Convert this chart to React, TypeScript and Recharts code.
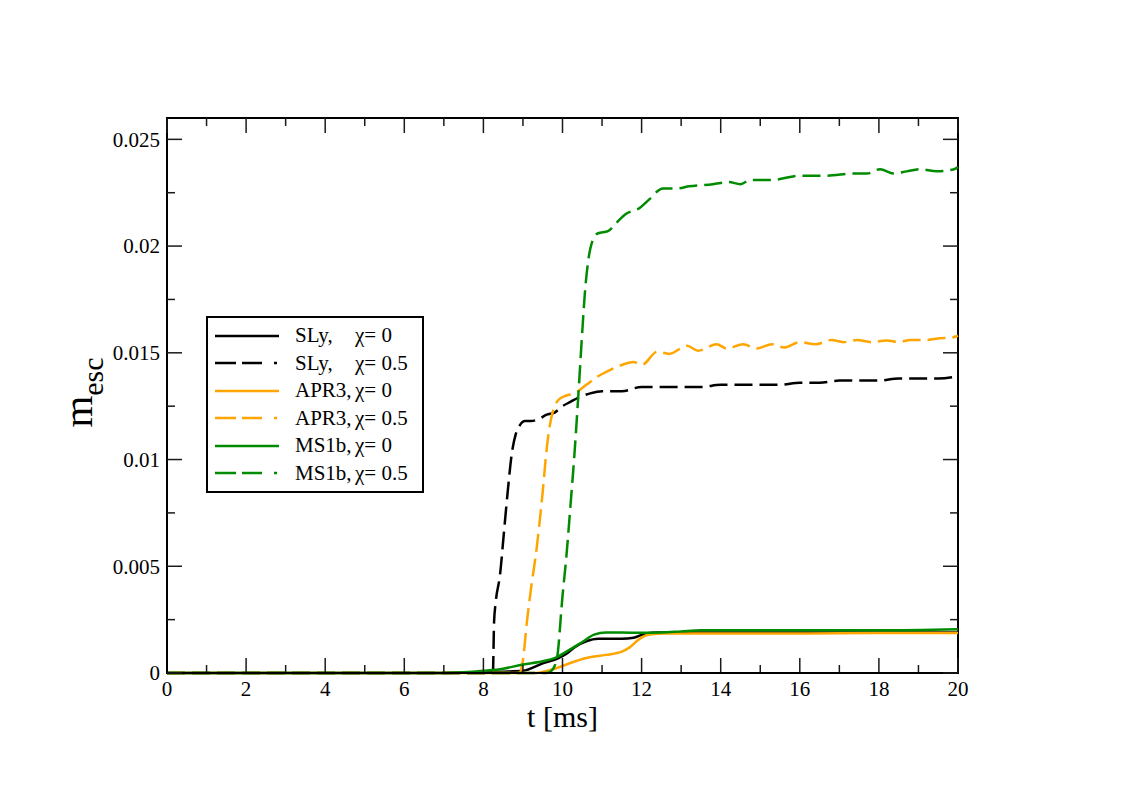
import { LineChart, Line, XAxis, YAxis, Legend, Label, ReferenceArea } from 'recharts';

const FONT = '"Liberation Serif", "Times New Roman", serif';

const BLACK = '#000000';
const ORANGE = '#ffa500';
const GREEN = '#008b00';

// [t in ms, m_esc]
const SLY_0: [number, number][] = [
  [0, 0], [2, 0], [4, 0], [6, 0], [7, 0], [8, 0.00003], [8.5, 0.00006], [9, 0.0001],
  [9.5, 0.00045], [9.9, 0.0007], [10.1, 0.0009], [10.3, 0.0012], [10.6, 0.00148],
  [10.9, 0.0016], [11.5, 0.0016], [11.8, 0.00165], [12.1, 0.00185], [12.4, 0.0019],
  [13, 0.0019], [14, 0.0019], [15, 0.0019], [16, 0.0019], [17, 0.0019], [18, 0.0019],
  [19, 0.0019], [20, 0.0019],
];

const SLY_05: [number, number][] = [
  [0, 0], [4, 0], [8, 0], [8.24, 0], [8.27, 0.0024], [8.31, 0.0033], [8.42, 0.0046],
  [8.52, 0.0066], [8.62, 0.0086], [8.72, 0.0103], [8.82, 0.0112], [8.92, 0.0116],
  [9.05, 0.0118], [9.2, 0.0118], [9.4, 0.0119], [9.6, 0.0121], [9.8, 0.0122], [10, 0.0125],
  [10.2, 0.0127], [10.4, 0.0129], [10.7, 0.0131], [11, 0.0132], [11.5, 0.0132], [12, 0.0134],
  [12.5, 0.0134], [13, 0.0134], [13.5, 0.0134], [14, 0.0135], [14.5, 0.0135], [15, 0.0135],
  [15.5, 0.0135], [16, 0.0136], [16.5, 0.0136], [17, 0.0137], [17.5, 0.0137], [18, 0.0137],
  [18.5, 0.0138], [19, 0.0138], [19.5, 0.0138], [20, 0.0139],
];

const APR3_0: [number, number][] = [
  [0, 0], [4, 0], [8, 0], [9.3, 0], [9.6, 0.0001], [9.8, 0.0002], [10.1, 0.0004],
  [10.6, 0.0007], [11.1, 0.00085], [11.5, 0.001], [11.7, 0.0012], [11.95, 0.0016],
  [12.2, 0.0018], [12.6, 0.00185], [14, 0.00185], [16, 0.00185], [18, 0.00187], [20, 0.00187],
];

const APR3_05: [number, number][] = [
  [0, 0], [4, 0], [8, 0], [8.9, 0], [9.0, 0.0006], [9.1, 0.0024], [9.2, 0.0039], [9.35, 0.0059],
  [9.5, 0.0085], [9.6, 0.0105], [9.7, 0.0118], [9.8, 0.0125], [9.9, 0.0128], [10.1, 0.013],
  [10.3, 0.0131], [10.6, 0.0135], [10.9, 0.0139], [11.1, 0.0141], [11.45, 0.0144],
  [11.8, 0.01457], [12.0, 0.01443], [12.4, 0.01505], [12.7, 0.01495], [13.15, 0.01533],
  [13.43, 0.0151], [13.9, 0.0154], [14.15, 0.0152], [14.57, 0.0154], [14.9, 0.0152],
  [15.3, 0.0154], [15.6, 0.01525], [16.0, 0.0155], [16.4, 0.0154], [16.8, 0.0156],
  [17.1, 0.0155], [17.45, 0.0156], [17.8, 0.0155], [18.2, 0.01558], [18.5, 0.0155],
  [18.8, 0.0156], [19.2, 0.0156], [19.55, 0.01568], [19.8, 0.0157], [20, 0.0158],
];

const MS1B_0: [number, number][] = [
  [0, 0], [4, 0], [7, 0], [7.5, 0.00003], [8, 0.0001], [8.5, 0.0002], [9, 0.0004],
  [9.5, 0.00055], [9.8, 0.0007], [10.1, 0.001], [10.5, 0.00145], [10.8, 0.0018],
  [11.1, 0.0019], [11.5, 0.0019], [12, 0.00188], [12.5, 0.0019], [13, 0.00195],
  [13.5, 0.002], [14, 0.002], [16, 0.002], [18, 0.002], [20, 0.00205],
];

const MS1B_05: [number, number][] = [
  [0, 0], [4, 0], [8, 0], [9.6, 0], [9.72, 0.0001], [9.86, 0.0007], [10.0, 0.0036],
  [10.1, 0.0055], [10.2, 0.0078], [10.3, 0.0102], [10.4, 0.013], [10.5, 0.016],
  [10.57, 0.0179], [10.65, 0.0193], [10.75, 0.0202], [10.9, 0.0206], [11.15, 0.0207],
  [11.37, 0.0211], [11.6, 0.0215], [11.96, 0.0218], [12.2, 0.0222], [12.54, 0.0227],
  [12.9, 0.0227], [13.2, 0.0228], [13.8, 0.0229], [14.2, 0.023], [14.5, 0.0229],
  [14.75, 0.0231], [15.3, 0.0231], [16, 0.0233], [16.7, 0.0233], [17.35, 0.0234],
  [17.7, 0.0234], [18.03, 0.0236], [18.37, 0.0234], [18.7, 0.0235], [19.04, 0.0236],
  [19.46, 0.0235], [19.9, 0.0236], [20, 0.0237],
];

const X_TICKS = [0, 1, 2, 3, 4, 5, 6, 7, 8, 9, 10, 11, 12, 13, 14, 15, 16, 17, 18, 19, 20];
const Y_TICKS = [0, 0.0025, 0.005, 0.0075, 0.01, 0.0125, 0.015, 0.0175, 0.02, 0.0225, 0.025];
const Y_LABELS = ['0', '0.005', '0.01', '0.015', '0.02', '0.025'];

const toPoints = (pairs: [number, number][]) => pairs.map(([t, m]) => ({ t, m }));

const SERIES = [
  { name: 'SLy,', chi: '0', color: BLACK, dashed: false, data: toPoints(SLY_0) },
  { name: 'SLy,', chi: '0.5', color: BLACK, dashed: true, data: toPoints(SLY_05) },
  { name: 'APR3,', chi: '0', color: ORANGE, dashed: false, data: toPoints(APR3_0) },
  { name: 'APR3,', chi: '0.5', color: ORANGE, dashed: true, data: toPoints(APR3_05) },
  { name: 'MS1b,', chi: '0', color: GREEN, dashed: false, data: toPoints(MS1B_0) },
  { name: 'MS1b,', chi: '0.5', color: GREEN, dashed: true, data: toPoints(MS1B_05) },
];

// plot box edges, used only to hang the inward tick marks on the frame
const PLOT = { left: 167, right: 958, top: 118, bottom: 673 };
const MAJOR = 15;
const MINOR = 8;
const TICK_STROKE = '#1a1a1a';
const TICK_W = 1.5;
// tick lengths in y units for the bottom ticks (555 px span 0.026)
const PX_TO_Y = 0.026 / (PLOT.bottom - PLOT.top);

function BottomTick(props: any) {
  const { x, index } = props;
  const len = index % 2 === 0 ? MAJOR : MINOR;
  return (
    <g>
      <line x1={x} x2={x} y1={PLOT.top} y2={PLOT.top + len} stroke={TICK_STROKE} strokeWidth={TICK_W} />
      {index % 2 === 0 && (
        <text x={x} y={PLOT.bottom + 8} dy="0.72em" textAnchor="middle" fontSize={21} fontFamily={FONT} fill="#000">
          {props.payload.value}
        </text>
      )}
    </g>
  );
}

function LeftTick(props: any) {
  const { y, index } = props;
  const len = index % 2 === 0 ? MAJOR : MINOR;
  return (
    <g>
      <line x1={PLOT.left} x2={PLOT.left + len} y1={y} y2={y} stroke={TICK_STROKE} strokeWidth={TICK_W} />
      <line x1={PLOT.right} x2={PLOT.right - len} y1={y} y2={y} stroke={TICK_STROKE} strokeWidth={TICK_W} />
      {index % 2 === 0 && (
        <text x={PLOT.left - 7} y={y} dy="0.35em" textAnchor="end" fontSize={21} fontFamily={FONT} fill="#000">
          {Y_LABELS[index / 2]}
        </text>
      )}
    </g>
  );
}

function YTitle(props: any) {
  const vb = props.viewBox || { x: 107, y: 118, width: 60, height: 555 };
  const bx = vb.x - 15;
  const cy = vb.y + vb.height / 2 - 3;
  return (
    <text transform={`translate(${bx},${cy}) rotate(-90)`} textAnchor="middle" fontFamily={FONT} fill="#000">
      <tspan fontSize={41}>m</tspan>
      <tspan fontSize={30} dy={11}>esc</tspan>
    </text>
  );
}

function LegendBox() {
  return (
    <div
      style={{
        boxSizing: 'border-box',
        width: 218,
        height: 177,
        border: '2px solid #000',
        background: '#fff',
        padding: '4px 0 0 7px',
        fontFamily: FONT,
        fontSize: 21,
        color: '#000',
      }}
    >
      {SERIES.map((s, i) => (
        <div key={i} style={{ display: 'flex', alignItems: 'center', height: 27.5 }}>
          <svg width={64} height={6} style={{ marginRight: 16 }}>
            <line
              x1={0}
              x2={64}
              y1={3}
              y2={3}
              stroke={s.color}
              strokeWidth={2.5}
              strokeDasharray={s.dashed ? '21 6 20 12 3' : undefined}
            />
          </svg>
          <span style={{ width: 60, whiteSpace: 'pre' }}>{s.name}</span>
          <span>χ= {s.chi}</span>
        </div>
      ))}
    </div>
  );
}

export default function App() {
  return (
    <div style={{ position: 'absolute', left: 0, top: 0, width: 1121, height: 792, background: '#fff', fontFamily: FONT }}>
      <LineChart width={1121} height={792} margin={{ top: 118, right: 163, bottom: 59, left: 107 }}>
        <XAxis
          xAxisId="b"
          dataKey="t"
          type="number"
          domain={[0, 20]}
          ticks={X_TICKS}
          interval={0}
          tickLine={false}
          axisLine={{ stroke: '#000', strokeWidth: 2 }}
          tick={<BottomTick />}
          height={60}
        >
          <Label value="t [ms]" position="insideBottom" offset={6} style={{ fontSize: 30, fill: '#000', fontFamily: FONT }} />
        </XAxis>
        <YAxis
          yAxisId="l"
          type="number"
          domain={[0, 0.026]}
          ticks={Y_TICKS}
          interval={0}
          tickLine={false}
          axisLine={{ stroke: '#000', strokeWidth: 2 }}
          tick={<LeftTick />}
          width={60}
        >
          <Label content={(p: any) => <YTitle {...p} />} />
        </YAxis>
        <ReferenceArea
          xAxisId="b"
          yAxisId="l"
          x1={0}
          x2={20}
          y1={0}
          y2={0.026}
          fill="none"
          stroke="#000"
          strokeWidth={2}
          ifOverflow="visible"
        />
        <Legend
          layout="horizontal"
          verticalAlign="middle"
          align="center"
          content={<LegendBox />}
          wrapperStyle={{ left: 206, top: 316, width: 218, height: 177 }}
        />
        {SERIES.map((s, i) => (
          <Line
            key={i}
            xAxisId="b"
            yAxisId="l"
            data={s.data}
            dataKey="m"
            type="monotone"
            stroke={s.color}
            strokeWidth={2.5}
            strokeDasharray={s.dashed ? '18 7' : undefined}
            dot={false}
            activeDot={false}
            isAnimationActive={false}
            legendType="none"
          />
        ))}
        {/* inward bottom ticks, drawn in the series layer through the same scales */}
        {X_TICKS.map((t, i) => (
          <Line
            key={`tick${t}`}
            xAxisId="b"
            yAxisId="l"
            data={[
              { t, m: 0 },
              { t, m: (i % 2 === 0 ? MAJOR : MINOR) * PX_TO_Y },
            ]}
            dataKey="m"
            type="linear"
            stroke={TICK_STROKE}
            strokeWidth={TICK_W}
            dot={false}
            activeDot={false}
            isAnimationActive={false}
            legendType="none"
          />
        ))}
      </LineChart>
    </div>
  );
}
